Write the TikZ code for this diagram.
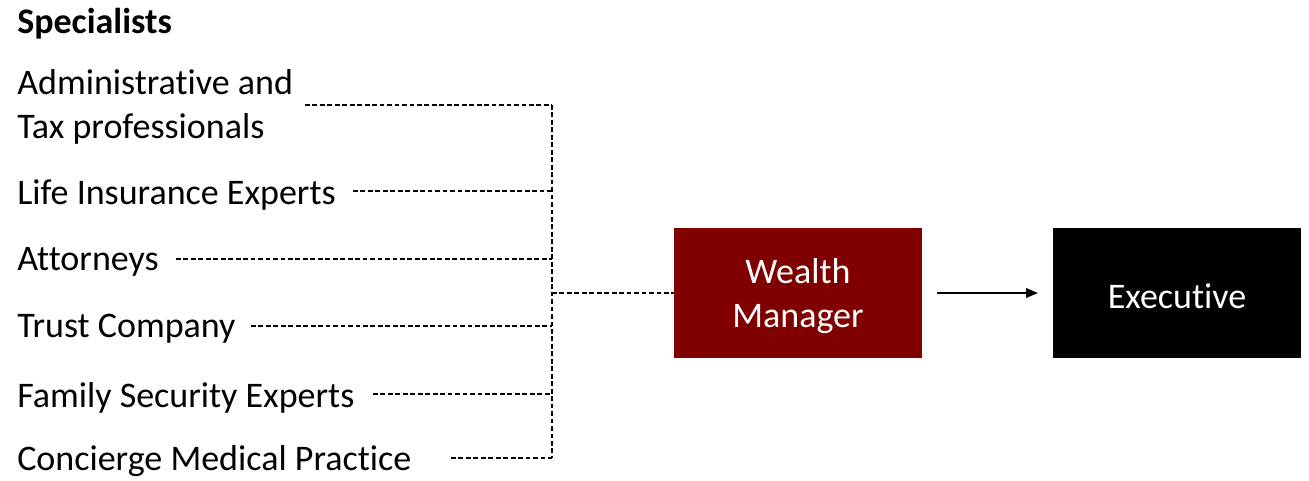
\documentclass[tikz,border=0pt]{standalone}
\usepackage{fontspec}
\setmainfont{Carlito}[Ligatures=NoCommon]
\usetikzlibrary{arrows.meta}
\definecolor{wmred}{HTML}{800000}
\begin{document}
\begin{tikzpicture}[x=0.75pt,y=-0.75pt,
  lbl/.style={anchor=west,inner sep=0pt,font=\fontsize{27}{33}\selectfont,align=left},
  dashline/.style={draw=black,line width=1pt,dash pattern=on 3.6pt off 2pt},
  boxnode/.style={minimum width=186pt,minimum height=97.5pt,inner sep=0pt},
  boxtext/.style={text=white,align=center,inner sep=0pt,font=\fontsize{27}{33}\selectfont}]
\useasboundingbox (0,0) rectangle (1309,480);
\node[lbl,font=\bfseries\fontsize{27}{33}\selectfont] (spec) at (17,24) {Specialists};
\node[lbl] (adm) at (17,107) {Administrative and\\Tax professionals};
\node[lbl] (life) at (17,195) {Life Insurance Experts};
\node[lbl] (att) at (17,262) {Attorneys};
\node[lbl] (trust) at (17,329) {Trust Company};
\node[lbl] (fam) at (17,398) {Family Security Experts};
\node[lbl] (con) at (17,461) {Concierge Medical Practice};
\node[boxnode,fill=wmred] (wm) at (798,293) {};
\node[boxtext] (wmt) at (798,296) {Wealth\\Manager};
\node[boxnode,fill=black] (ex) at (1177,293) {};
\node[boxtext] (ext) at (1177,296) {Executive};
\coordinate (bus) at (552,293);
\coordinate (sa) at (305,105);
\coordinate (sl) at (353,191);
\coordinate (st) at (176,259);
\coordinate (su) at (251,326);
\coordinate (sf) at (373,394);
\coordinate (sc) at (451,458);
\foreach \s in {sa,sl,st,su,sf,sc} {\draw[dashline] (\s) -- (\s -| bus);}
\draw[dashline] (sa -| bus) -- (sc -| bus);
\draw[dashline] (bus) -- (wm.west);
\draw[line width=1.5pt,-{Triangle[length=9pt,width=7pt]},shorten <=11pt,shorten >=11pt] (wm.east) -- (ex.west);
\end{tikzpicture}
\end{document}
